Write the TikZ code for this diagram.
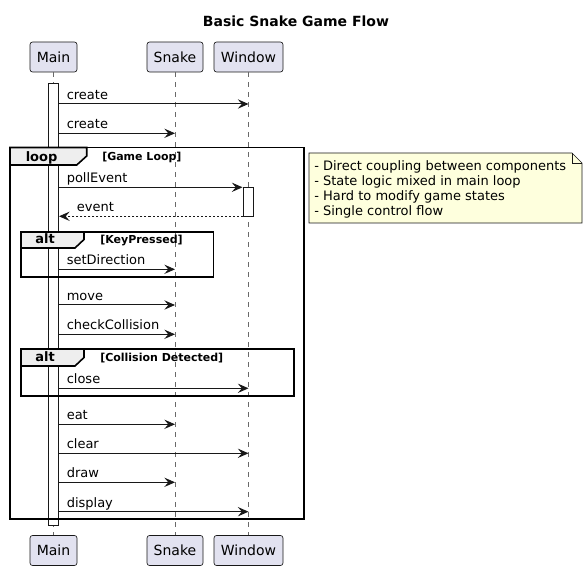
\documentclass[tikz,border=0pt]{standalone}
\usepackage{fontspec}
\setmainfont{DejaVu Sans}
\usetikzlibrary{arrows.meta}
\definecolor{pline}{HTML}{181818}
\definecolor{pfill}{HTML}{E2E2F0}
\definecolor{nfill}{HTML}{FEFFDD}
\definecolor{tabfill}{HTML}{EEEEEE}
\begin{document}
\begin{tikzpicture}[x=0.75pt,y=-0.75pt,
  part/.style={draw=pline, fill=pfill, rounded corners=1.9pt, line width=0.5pt, minimum height=22.5pt, inner sep=0pt, font=\fontsize{10.5}{12}\selectfont},
  lifeline/.style={draw=pline!65, line width=0.375pt, dash pattern=on 3.75pt off 3.75pt},
  act/.style={draw=pline, fill=white, line width=0.75pt, inner sep=0pt},
  msg/.style={draw=pline, line width=0.75pt, -{Stealth[length=8pt,width=7pt,inset=3pt]}},
  ret/.style={msg, dash pattern=on 1.5pt off 1.5pt},
  lbl/.style={anchor=base west, inner sep=0pt, font=\fontsize{9.75}{11}\selectfont},
  frame/.style={draw=black, line width=1.2pt},
  tabbox/.style={draw=black, fill=tabfill, line width=1.2pt},
  ftitle/.style={anchor=base west, inner sep=0pt, font=\bfseries\fontsize{9.75}{11}\selectfont},
  guard/.style={anchor=base west, inner sep=0pt, font=\bfseries\fontsize{8.25}{10}\selectfont},
  notebox/.style={draw=pline, fill=nfill, line width=0.5pt},
  notetxt/.style={anchor=base west, inner sep=0pt, font=\fontsize{9.75}{11}\selectfont}
]
\useasboundingbox (0,0) rectangle (587,570);

% title
\node[anchor=base, inner sep=0pt, font=\bfseries\fontsize{10.5}{12}\selectfont] (title) at (296,27) {Basic Snake Game Flow};

% participants
\node[part, minimum width=35.25pt] (main) at (53.5,57) {Main};
\node[part, minimum width=42pt] (snake) at (175,57) {Snake};
\node[part, minimum width=51.75pt] (window) at (248.5,57) {Window};
\node[part, minimum width=35.25pt] (mainb) at (53.5,550.5) {Main};
\node[part, minimum width=42pt] (snakeb) at (175,550.5) {Snake};
\node[part, minimum width=51.75pt] (windowb) at (248.5,550.5) {Window};

% lifelines
\draw[lifeline] (main) -- (mainb);
\draw[lifeline] (snake) -- (snakeb);
\draw[lifeline] (window) -- (windowb);

% activations
\node[act, minimum width=7.5pt, minimum height=331.5pt] (mainact) at (53.5,305) {};
\node[act, minimum width=7.875pt, minimum height=22.1pt] (winact) at (248.25,201.9) {};

% loop frame
\draw[frame] (10,147.5) rectangle (304,519);
\draw[tabbox] (10,147.5) -- (86.7,147.5) -- (86.7,156) -- (76.7,165) -- (10,165) -- cycle;
\node[ftitle] (looplbl) at (25.5,161.5) {loop};
\node[guard] (loopguard) at (102,161) {[Game Loop]};

% alt KeyPressed
\draw[frame] (21,232) rectangle (213.5,277);
\draw[tabbox] (21,232) -- (84,232) -- (84,239.5) -- (75,248) -- (21,248) -- cycle;
\node[ftitle] (alt1lbl) at (35,243.5) {alt};
\node[guard] (alt1guard) at (100,243.5) {[KeyPressed]};

% alt Collision
\draw[frame] (21,349) rectangle (294,396);
\draw[tabbox] (21,349) -- (84,349) -- (84,357.5) -- (75,366) -- (21,366) -- cycle;
\node[ftitle] (alt2lbl) at (35,361.5) {alt};
\node[guard] (alt2guard) at (100,361.5) {[Collision Detected]};

% messages
\draw[msg] (mainact.east |- 0,104) -- (window |- 0,104);
\node[lbl] at (66.5,99.5) {create};
\draw[msg] (mainact.east |- 0,133.3) -- (snake |- 0,133.3);
\node[lbl] at (66.5,128.8) {create};
\draw[msg] (mainact.east |- 0,187.3) -- (winact.west |- 0,187.3);
\node[lbl] at (66.5,182.8) {pollEvent};
\draw[ret] (winact.west |- 0,216.3) -- (mainact.east |- 0,216.3);
\node[lbl] at (76.7,211.8) {event};
\draw[msg] (mainact.east |- 0,269.3) -- (snake |- 0,269.3);
\node[lbl] at (66.5,264.8) {setDirection};
\draw[msg] (mainact.east |- 0,305) -- (snake |- 0,305);
\node[lbl] at (66.5,300.5) {move};
\draw[msg] (mainact.east |- 0,334.3) -- (snake |- 0,334.3);
\node[lbl] at (66.5,329.8) {checkCollision};
\draw[msg] (mainact.east |- 0,388.3) -- (window |- 0,388.3);
\node[lbl] at (66.5,383.8) {close};
\draw[msg] (mainact.east |- 0,424.3) -- (snake |- 0,424.3);
\node[lbl] at (66.5,419.8) {eat};
\draw[msg] (mainact.east |- 0,453.3) -- (window |- 0,453.3);
\node[lbl] at (66.5,448.8) {clear};
\draw[msg] (mainact.east |- 0,482.3) -- (snake |- 0,482.3);
\node[lbl] at (66.5,477.8) {draw};
\draw[msg] (mainact.east |- 0,511.7) -- (window |- 0,511.7);
\node[lbl] at (66.5,507.2) {display};

% note
\draw[notebox] (309,153) -- (572,153) -- (582,163) -- (582,223) -- (309,223) -- cycle;
\draw[pline, line width=0.5pt] (572,153) -- (572,163) -- (582,163);
\node[notetxt] (n1) at (314,171) {- Direct coupling between components};
\node[notetxt] (n2) at (314,186) {- State logic mixed in main loop};
\node[notetxt] (n3) at (314,201) {- Hard to modify game states};
\node[notetxt] (n4) at (314,216) {- Single control flow};
\end{tikzpicture}
\end{document}
